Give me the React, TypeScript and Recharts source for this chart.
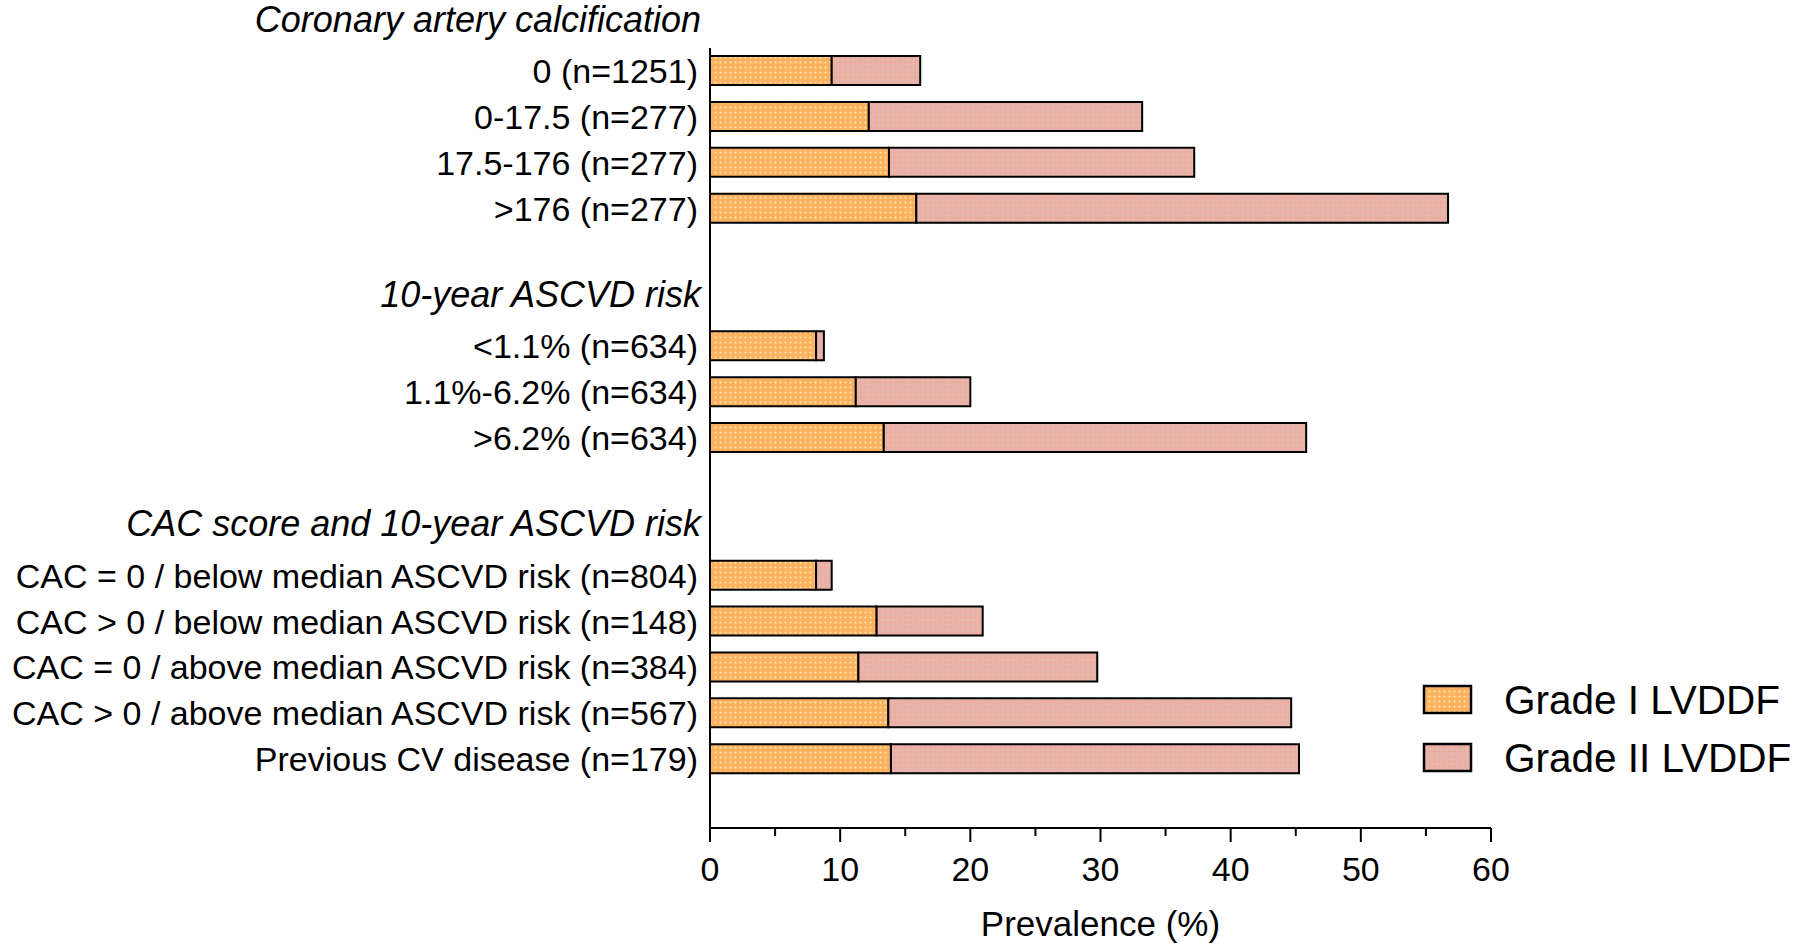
import React from "react";
import { BarChart, Bar, XAxis, YAxis, Label } from "recharts";

// ---- data ----
const rowLabels: string[] = [
  "0 (n=1251)",
  "0-17.5 (n=277)",
  "17.5-176 (n=277)",
  ">176 (n=277)",
  "",
  "",
  "<1.1% (n=634)",
  "1.1%-6.2% (n=634)",
  ">6.2% (n=634)",
  "",
  "",
  "CAC = 0 / below median ASCVD risk (n=804)",
  "CAC > 0 / below median ASCVD risk (n=148)",
  "CAC = 0 / above median ASCVD risk (n=384)",
  "CAC > 0 / above median ASCVD risk (n=567)",
  "Previous CV disease (n=179)",
  "",
];

const gradeI: (number | null)[] = [
  9.35, 12.2, 13.75, 15.85, null, null, 8.15, 11.2, 13.35, null, null, 8.15, 12.8, 11.4, 13.7, 13.9, null,
];

const gradeII: (number | null)[] = [
  6.8, 21.0, 23.45, 40.85, null, null, 0.6, 8.8, 32.45, null, null, 1.2, 8.15, 18.35, 30.95, 31.35, null,
];

const groupHeaders: Record<number, string> = {
  0: "Coronary artery calcification",
  6: "10-year ASCVD risk",
  11: "CAC score and 10-year ASCVD risk",
};

const xTicks: number[] = [0, 5, 10, 15, 20, 25, 30, 35, 40, 45, 50, 55, 60];
const seriesNames = ["Grade I LVDDF", "Grade II LVDDF"];

const data = rowLabels.map((label, i) => ({
  key: `row${i}`,
  label,
  g1: gradeI[i],
  g2: gradeII[i],
}));

const FONT = "'Liberation Sans', Arial, sans-serif";
const CHART_W = 1784;
const CHART_H = 948;
const MARGIN = { top: 48, right: 301, bottom: 20, left: 0 };
const Y_W = 702;
const X_H = 100;

const PatternDefs = ({ suffix = "" }: { suffix?: string }) => (
  <defs>
    <pattern id={`patI${suffix}`} patternUnits="userSpaceOnUse" width="5" height="5">
      <rect width="5" height="5" fill="#FDB35C" />
      <circle cx="2.5" cy="2.5" r="1" fill="#FFE9C2" />
      <rect x="0" y="0" width="1" height="1" fill="#F9A88A" />
    </pattern>
    <pattern id={`patII${suffix}`} patternUnits="userSpaceOnUse" width="5" height="5">
      <rect width="5" height="5" fill="#E7B4AA" />
      <circle cx="2.5" cy="2.5" r="1" fill="#F4A393" />
    </pattern>
  </defs>
);

const YTick = (props: any) => {
  const { x, y, payload } = props;
  const idx = data.findIndex((d) => d.key === payload.value);
  const label = idx >= 0 ? rowLabels[idx] : "";
  const header = groupHeaders[idx];
  return (
    <g>
      {label ? (
        <text x={x - 12} y={y} dy="0.355em" textAnchor="end" fontSize={34} fontFamily={FONT} fill="#000">
          {label}
        </text>
      ) : null}
      {header ? (
        <text
          x={x - 9}
          y={y - 52}
          dy="0.355em"
          textAnchor="end"
          fontSize={36}
          fontStyle="italic"
          fontFamily={FONT}
          fill="#000"
        >
          {header}
        </text>
      ) : null}
    </g>
  );
};

const XTick = (props: any) => {
  const { x, y, payload } = props;
  const v = payload.value as number;
  const major = v % 10 === 0;
  return (
    <g>
      <line x1={x} x2={x} y1={y} y2={y + (major ? 14 : 8)} stroke="#000" strokeWidth={2} />
      {major ? (
        <text x={x} y={y + 41} dy="0.355em" textAnchor="middle" fontSize={34} fontFamily={FONT} fill="#000">
          {v}
        </text>
      ) : null}
    </g>
  );
};

const LegendBox = () => (
  <svg width={376} height={110} style={{ display: "block", overflow: "visible" }}>
    <PatternDefs suffix="L" />
    <rect x={2} y={2} width={47} height={27} fill="url(#patIL)" stroke="#000" strokeWidth={2.5} />
    <text x={82} y={15.5} dy="0.355em" fontSize={40.5} fontFamily={FONT} fill="#000">
      {seriesNames[0]}
    </text>
    <rect x={2} y={60} width={47} height={27} fill="url(#patIIL)" stroke="#000" strokeWidth={2.5} />
    <text x={82} y={73.5} dy="0.355em" fontSize={40.5} fontFamily={FONT} fill="#000">
      {seriesNames[1]}
    </text>
  </svg>
);

const AxisTitle = (props: any) => {
  const vb = props.viewBox || {};
  return (
    <text
      x={vb.x + vb.width / 2}
      y={vb.y + 96}
      dy="0.355em"
      textAnchor="middle"
      fontSize={35}
      fontFamily={FONT}
      fill="#000"
    >
      Prevalence (%)
    </text>
  );
};

export default function App() {
  return (
    <div style={{ position: "absolute", left: 8, top: 0, width: CHART_W, height: CHART_H, background: "#fff" }}>
      <BarChart width={CHART_W} height={CHART_H} data={data} layout="vertical" margin={MARGIN}>
        <PatternDefs />
        <XAxis
          type="number"
          domain={[0, 60]}
          ticks={xTicks}
          interval={0}
          allowDataOverflow
          height={X_H}
          tickSize={0}
          tickMargin={0}
          tickLine={false}
          axisLine={{ stroke: "#000", strokeWidth: 2 }}
          tick={<XTick />}
        >
          <Label content={<AxisTitle />} />
        </XAxis>
        <YAxis
          type="category"
          dataKey="key"
          width={Y_W}
          interval={0}
          tickSize={0}
          tickMargin={0}
          tickLine={false}
          axisLine={{ stroke: "#000", strokeWidth: 2 }}
          tick={<YTick />}
        />
        <Bar
          dataKey="g1"
          name={seriesNames[0]}
          stackId="a"
          barSize={29}
          fill="url(#patI)"
          stroke="#000"
          strokeWidth={2}
          isAnimationActive={false}
        />
        <Bar
          dataKey="g2"
          name={seriesNames[1]}
          stackId="a"
          barSize={29}
          fill="url(#patII)"
          stroke="#000"
          strokeWidth={2}
          isAnimationActive={false}
        />
      </BarChart>
      <div style={{ position: "absolute", left: 1414, top: 684 }}>
        <LegendBox />
      </div>
    </div>
  );
}
